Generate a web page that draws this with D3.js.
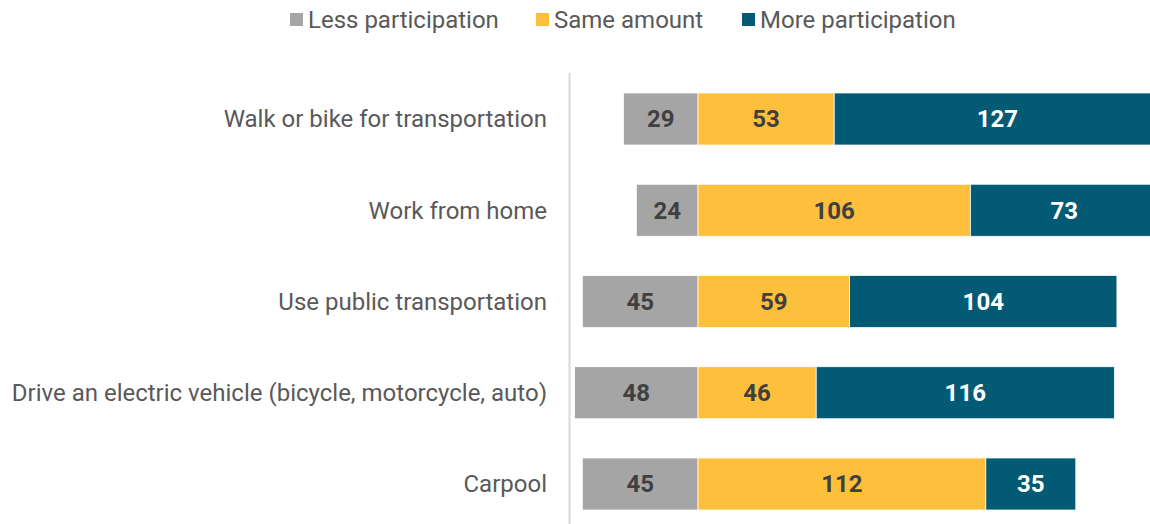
<!DOCTYPE html>
<html>
<head>
<meta charset="utf-8">
<script src="https://cdn.jsdelivr.net/npm/d3@7"></script>
<style>
  body { margin: 0; background: #fff; }
  svg { display: block; font-family: Roboto, sans-serif; }
</style>
</head>
<body>
<svg id="chart" width="1150" height="524"></svg>
<script>
const categories = [
  'Walk or bike for transportation',
  'Work from home',
  'Use public transportation',
  'Drive an electric vehicle (bicycle, motorcycle, auto)',
  'Carpool'
]
const seriesNames = ['Less participation', 'Same amount', 'More participation']
const lessValues = [29, 24, 45, 48, 45]
const sameValues = [53, 106, 59, 46, 112]
const moreValues = [127, 73, 104, 116, 35]

const colors = ['#a5a5a5', '#fdbf3c', '#025a75']
const labelColors = ['#404040', '#404040', '#ffffff']

const width = 1150
const height = 524

const svg = d3.select('#chart')

// diverging layout: "less" goes left of zero
const rows = categories.map((c, i) => {
  const less = lessValues[i], same = sameValues[i], more = moreValues[i]
  return [
    { cat: c, s: 0, x0: -less, x1: 0, v: less },
    { cat: c, s: 1, x0: 0, x1: same, v: same },
    { cat: c, s: 2, x0: same, x1: same + more, v: more }
  ]
}).flat()

const x = d3.scaleLinear().domain([-50, 200]).range([569.5, 569.5 + 250 * 2.57])
const y = d3.scaleBand().domain(categories).range([93, 510]).paddingInner(0.43).paddingOuter(0)

const clip = svg.append('defs').append('clipPath').attr('id', 'clip')
clip.append('rect').attr('x', 0).attr('y', 0).attr('width', width).attr('height', height)

// axis line
svg.append('line')
  .attr('x1', x(-50)).attr('x2', x(-50))
  .attr('y1', 73).attr('y2', height)
  .attr('stroke', '#d9d9d9').attr('stroke-width', 2)

const g = svg.append('g').attr('clip-path', 'url(#clip)')

g.selectAll('rect.bar').data(rows).enter()
  .append('rect')
  .attr('class', 'bar')
  .attr('x', d => x(d.x0))
  .attr('width', d => x(d.x1) - x(d.x0))
  .attr('y', d => y(d.cat))
  .attr('height', y.bandwidth())
  .attr('fill', d => colors[d.s])
  .attr('stroke', '#ffffff')
  .attr('stroke-width', 0.75)

g.selectAll('text.val').data(rows).enter()
  .append('text')
  .attr('class', 'val')
  .attr('x', d => x((d.x0 + d.x1) / 2))
  .attr('y', d => y(d.cat) + y.bandwidth() / 2)
  .attr('dy', '0.35em')
  .attr('text-anchor', 'middle')
  .attr('font-size', 24)
  .attr('font-weight', 'bold')
  .attr('fill', d => labelColors[d.s])
  .text(d => d.v)

// category labels
svg.selectAll('text.cat').data(categories).enter()
  .append('text')
  .attr('class', 'cat')
  .attr('x', 547)
  .attr('y', d => y(d) + y.bandwidth() / 2)
  .attr('dy', '0.35em')
  .attr('text-anchor', 'end')
  .attr('font-size', 24)
  .attr('fill', '#595959')
  .text(d => d)

// legend
const legendX = [290, 536, 742]
const legend = svg.selectAll('g.legend').data(seriesNames).enter()
  .append('g')
  .attr('class', 'legend')
  .attr('transform', (d, i) => `translate(${legendX[i]},20)`)

legend.append('rect')
  .attr('x', 0).attr('y', -7)
  .attr('width', 13).attr('height', 13)
  .attr('fill', (d, i) => colors[i])

legend.append('text')
  .attr('x', 18)
  .attr('dy', '0.35em')
  .attr('font-size', 24)
  .attr('fill', '#595959')
  .text(d => d)
</script>
</body>
</html>
